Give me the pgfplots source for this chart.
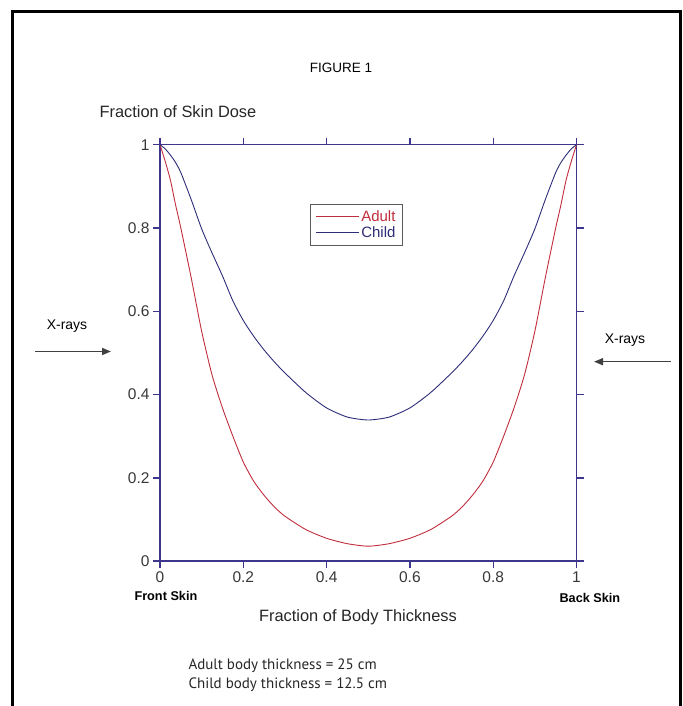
\documentclass[border=0pt]{standalone}
\usepackage{fontspec}
\setmainfont{Liberation Sans}
\newfontfamily\notefont{PT Sans}
\usepackage{pgfplots}
\usepackage{pgfplotstable}
\pgfplotsset{compat=1.18}
\usetikzlibrary{arrows.meta}

\definecolor{axiscol}{RGB}{62,54,140}
\definecolor{adultcol}{RGB}{192,45,60}
\definecolor{childcol}{RGB}{45,45,120}
\definecolor{legcol}{RGB}{90,90,90}

\pgfplotstableread{
x adult child
0.0000 1.000 1.000
0.0125 0.960 0.990
0.0250 0.915 0.975
0.0375 0.855 0.957
0.0500 0.800 0.933
0.0750 0.680 0.868
0.1000 0.552 0.798
0.1250 0.447 0.740
0.1500 0.368 0.685
0.1750 0.300 0.625
0.2000 0.238 0.578
0.2250 0.192 0.540
0.2500 0.158 0.507
0.2750 0.130 0.478
0.3000 0.108 0.452
0.3500 0.076 0.405
0.4000 0.055 0.368
0.4500 0.042 0.346
0.5000 0.036 0.339
0.5500 0.042 0.346
0.6000 0.055 0.368
0.6500 0.076 0.405
0.7000 0.108 0.452
0.7250 0.130 0.478
0.7500 0.158 0.507
0.7750 0.192 0.540
0.8000 0.238 0.578
0.8250 0.300 0.625
0.8500 0.368 0.685
0.8750 0.447 0.740
0.9000 0.552 0.798
0.9250 0.680 0.868
0.9500 0.800 0.933
0.9625 0.855 0.957
0.9750 0.915 0.975
0.9875 0.960 0.990
1.0000 1.000 1.000
}\dosedata

\begin{document}
\begin{tikzpicture}
\path[use as bounding box] (0pt,0pt) rectangle (682pt,706pt);
% frame
\draw[line width=3pt, black] (12pt,0pt) -- (12pt,694pt) -- (680pt,694pt) -- (680pt,0pt);

\begin{axis}[
  at={(160pt,144.8pt)}, anchor=south west,
  scale only axis, width=416.5pt, height=416.5pt,
  xmin=0, xmax=1, ymin=0, ymax=1,
  xtick={0,0.2,0.4,0.6,0.8,1},
  ytick={0,0.2,0.4,0.6,0.8,1},
  tick align=outside, major tick length=7pt,
  axis line style={axiscol, line width=1.6pt},
  every tick/.style={axiscol, line width=1.4pt},
  tick label style={font=\fontsize{15.5}{16}\selectfont, text=black!78},
  /pgf/number format/assume math mode=true,
  legend style={at={(0.36,0.858)}, anchor=north west, draw=legcol, line width=0.9pt,
    font=\fontsize{15}{15}\selectfont, inner xsep=5pt, inner ysep=4pt, row sep=0pt,
    nodes={inner sep=2pt}},
  legend cell align=left,
  legend image code/.code={\draw[#1] (0pt,0pt) -- (43pt,0pt);},
]
\addplot[adultcol, line width=0.9pt, smooth, tension=0.4] table[x=x, y=adult] {\dosedata};
\addlegendentry{\textcolor{adultcol}{Adult}}
\addplot[childcol, line width=0.9pt, smooth, tension=0.4] table[x=x, y=child] {\dosedata};
\addlegendentry{\textcolor{childcol}{Child}}
\end{axis}

\node[font=\fontsize{13.5}{14}\selectfont] at (341pt,638pt) {FIGURE 1};
\node[anchor=west, font=\fontsize{16.4}{17}\selectfont, text=black!85] at (96pt,594pt) {Fraction of Skin Dose};
\node[font=\fontsize{16.4}{17}\selectfont, text=black!85] at (358pt,89pt) {Fraction of Body Thickness};
\node[anchor=west, font=\bfseries\fontsize{12.7}{13}\selectfont] at (131pt,110pt) {Front Skin};
\node[anchor=west, font=\bfseries\fontsize{12.7}{13}\selectfont] at (556pt,108pt) {Back Skin};

\node[font=\fontsize{14}{14}\selectfont] at (67pt,380pt) {X-rays};
\draw[line width=1.6pt, black!75, -{Triangle[length=9pt,width=7pt]}] (35pt,354.5pt) -- (111pt,354.5pt);
\node[font=\fontsize{14}{14}\selectfont] at (625pt,366pt) {X-rays};
\draw[line width=1.6pt, black!75, -{Triangle[length=9pt,width=7pt]}] (671pt,344.3pt) -- (594pt,344.3pt);

\node[anchor=west, align=left, font=\notefont\fontsize{15}{19}\selectfont, text=black!85] at (185pt,31pt) {Adult body thickness = 25 cm\\Child body thickness = 12.5 cm};
\end{tikzpicture}
\end{document}
